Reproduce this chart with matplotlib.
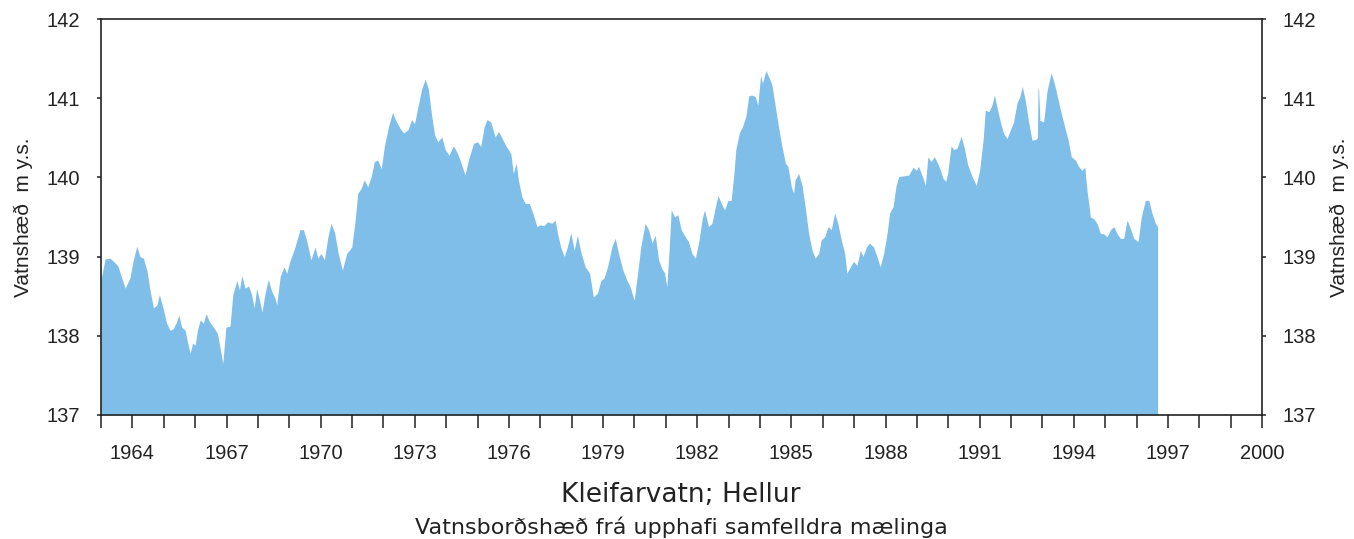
import numpy as np
import matplotlib
matplotlib.use("Agg")
from matplotlib import pyplot as plt
from matplotlib.ticker import MultipleLocator

plt.rcParams['font.family'] = ['Liberation Sans', 'DejaVu Sans']

# Vatnsborð Kleifarvatns (m y.s.), lesið af myndinni
years = [
    1963.02, 1963.13, 1963.29, 1963.45, 1963.54, 1963.66, 1963.77, 1963.92,
    1964.03, 1964.14, 1964.24, 1964.35, 1964.46, 1964.56, 1964.67, 1964.78,
    1964.86, 1964.99, 1965.09, 1965.20, 1965.30, 1965.39, 1965.48, 1965.57,
    1965.68, 1965.75, 1965.84, 1965.92, 1966.00, 1966.07, 1966.16, 1966.26,
    1966.35, 1966.45, 1966.58, 1966.71, 1966.79, 1966.88, 1966.98, 1967.11,
    1967.20, 1967.33, 1967.41, 1967.49, 1967.59, 1967.70, 1967.80, 1967.88,
    1967.96, 1968.05, 1968.13, 1968.23, 1968.33, 1968.44, 1968.55, 1968.60,
    1968.71, 1968.83, 1968.92, 1969.00,
    1969.18, 1969.34, 1969.45, 1969.56, 1969.69, 1969.82, 1969.91, 1970.01,
    1970.12, 1970.23, 1970.33, 1970.44, 1970.56, 1970.69, 1970.83, 1970.99,
    1971.10, 1971.18, 1971.29, 1971.39, 1971.50, 1971.61, 1971.71, 1971.82,
    1971.93, 1972.03, 1972.16, 1972.29, 1972.39, 1972.53, 1972.64, 1972.78,
    1972.90, 1972.99, 1973.10, 1973.22, 1973.33, 1973.43, 1973.54, 1973.63,
    1973.73, 1973.86, 1973.97, 1974.09, 1974.23, 1974.34, 1974.44, 1974.60,
    1974.71, 1974.87, 1975.00, 1975.10, 1975.21, 1975.30, 1975.42, 1975.56,
    1975.67, 1975.81, 1975.93, 1976.06, 1976.14, 1976.23, 1976.30, 1976.41,
    1976.52, 1976.65, 1976.76, 1976.89, 1976.99, 1977.12, 1977.23, 1977.37,
    1977.47, 1977.55, 1977.65, 1977.76, 1977.86, 1977.97, 1978.08, 1978.18,
    1978.29, 1978.43, 1978.57, 1978.69, 1978.82, 1978.93, 1979.03, 1979.14,
    1979.28, 1979.39, 1979.49, 1979.63, 1979.76, 1979.86, 1979.99, 1980.10,
    1980.20, 1980.34, 1980.45, 1980.56, 1980.66, 1980.77, 1980.87, 1980.96,
    1981.03, 1981.11, 1981.17, 1981.28, 1981.38, 1981.49, 1981.62, 1981.72,
    1981.83, 1981.94, 1982.06, 1982.15, 1982.23, 1982.36, 1982.47, 1982.57,
    1982.66, 1982.77, 1982.87, 1982.98, 1983.08, 1983.16, 1983.23, 1983.34,
    1983.44, 1983.55, 1983.64, 1983.74, 1983.85, 1983.93, 1984.02, 1984.08,
    1984.19, 1984.30, 1984.38, 1984.49, 1984.59, 1984.70, 1984.81, 1984.89,
    1985.00, 1985.07, 1985.12, 1985.23, 1985.34, 1985.44, 1985.55, 1985.66,
    1985.76, 1985.87, 1985.95, 1986.06, 1986.17, 1986.27, 1986.38, 1986.48,
    1986.59, 1986.70, 1986.77, 1986.88, 1986.98, 1987.09, 1987.20, 1987.28,
    1987.39, 1987.49, 1987.62, 1987.73, 1987.83, 1987.94, 1988.05, 1988.13,
    1988.24, 1988.34, 1988.42, 1988.58, 1988.74, 1988.88, 1988.98, 1989.05,
    1989.16, 1989.27, 1989.35, 1989.45, 1989.56, 1989.66, 1989.75, 1989.83,
    1989.92, 1989.98, 1990.09, 1990.17, 1990.28, 1990.41, 1990.51, 1990.62,
    1990.76, 1990.89, 1991.00, 1991.11, 1991.18, 1991.29, 1991.39, 1991.47,
    1991.55, 1991.66, 1991.76, 1991.87, 1991.98, 1992.08, 1992.19, 1992.28,
    1992.36, 1992.46, 1992.56, 1992.67, 1992.80, 1992.84, 1992.86, 1992.88,
    1992.92, 1993.04, 1993.15, 1993.28, 1993.39, 1993.50, 1993.60, 1993.71,
    1993.82, 1993.92, 1994.05, 1994.15, 1994.26, 1994.35, 1994.42, 1994.53,
    1994.63, 1994.74, 1994.85, 1994.95, 1995.06, 1995.17, 1995.27, 1995.38,
    1995.48, 1995.59, 1995.70, 1995.80, 1995.91, 1996.05, 1996.15, 1996.28,
    1996.39, 1996.49, 1996.60, 1996.67,
]

level = [
    138.75, 138.97, 138.98, 138.92, 138.88, 138.73, 138.60, 138.73,
    138.96, 139.13, 139.00, 138.98, 138.83, 138.58, 138.35, 138.39,
    138.52, 138.33, 138.16, 138.07, 138.09, 138.16, 138.26, 138.11,
    138.07, 137.93, 137.78, 137.91, 137.88, 138.07, 138.20, 138.16,
    138.28, 138.18, 138.11, 138.03, 137.86, 137.65, 138.11, 138.12,
    138.52, 138.70, 138.58, 138.76, 138.60, 138.63, 138.52, 138.35,
    138.60, 138.45, 138.30, 138.54, 138.71, 138.56, 138.47, 138.39,
    138.75, 138.87, 138.79, 138.92,
    139.12, 139.34, 139.34, 139.19, 138.96, 139.12, 138.98, 139.04,
    138.96, 139.25, 139.42, 139.31, 139.04, 138.83, 139.04, 139.12,
    139.46, 139.80, 139.86, 139.97, 139.88, 140.01, 140.20, 140.22,
    140.11, 140.39, 140.64, 140.82, 140.72, 140.62, 140.56, 140.60,
    140.73, 140.68, 140.89, 141.12, 141.24, 141.12, 140.77, 140.54,
    140.45, 140.51, 140.35, 140.28, 140.40, 140.32, 140.22, 140.03,
    140.22, 140.43, 140.45, 140.39, 140.64, 140.73, 140.70, 140.51,
    140.58, 140.47, 140.38, 140.30, 140.05, 140.18, 139.97, 139.76,
    139.67, 139.67, 139.55, 139.38, 139.40, 139.39, 139.44, 139.42,
    139.46, 139.29, 139.12, 139.00, 139.12, 139.30, 139.08, 139.27,
    139.06, 138.87, 138.79, 138.49, 138.54, 138.70, 138.73, 138.87,
    139.12, 139.23, 139.04, 138.83, 138.70, 138.62, 138.45, 138.79,
    139.12, 139.42, 139.34, 139.17, 139.27, 138.96, 138.85, 138.79,
    138.62, 139.12, 139.59, 139.50, 139.53, 139.34, 139.25, 139.19,
    139.04, 138.98, 139.21, 139.46, 139.59, 139.38, 139.42, 139.61,
    139.77, 139.67, 139.59, 139.71, 139.71, 140.01, 140.35, 140.56,
    140.64, 140.77, 141.03, 141.04, 141.02, 140.91, 141.29, 141.19,
    141.35, 141.25, 141.17, 140.89, 140.64, 140.39, 140.18, 140.14,
    139.88, 139.80, 139.97, 140.05, 139.90, 139.63, 139.29, 139.08,
    138.98, 139.04, 139.21, 139.25, 139.38, 139.34, 139.55, 139.42,
    139.21, 139.04, 138.79, 138.87, 138.94, 138.89, 139.08, 139.00,
    139.12, 139.17, 139.12, 139.00, 138.87, 139.04, 139.29, 139.55,
    139.63, 139.90, 140.01, 140.02, 140.03, 140.13, 140.09, 140.14,
    140.03, 139.90, 140.26, 140.20, 140.26, 140.18, 140.09, 139.99,
    139.95, 140.05, 140.40, 140.35, 140.37, 140.52, 140.37, 140.16,
    140.01, 139.90, 140.09, 140.47, 140.85, 140.83, 140.91, 141.04,
    140.89, 140.70, 140.56, 140.49, 140.60, 140.70, 140.94, 141.02,
    141.15, 140.96, 140.70, 140.47, 140.48, 140.50, 141.15, 141.10,
    140.72, 140.70, 141.10, 141.32, 141.17, 140.98, 140.81, 140.64,
    140.47, 140.26, 140.22, 140.14, 140.09, 140.13, 139.84, 139.50,
    139.48, 139.42, 139.29, 139.29, 139.25, 139.34, 139.38, 139.29,
    139.23, 139.23, 139.46, 139.36, 139.23, 139.19, 139.50, 139.71,
    139.71, 139.55, 139.42, 139.38,
]

year_labels = list(range(1964, 2001, 3))
level_ticks = [137, 138, 139, 140, 141, 142]

x = np.array(years)
y = np.array(level)
# byrja við vinstri ás og enda lóðrétt
x = np.concatenate([[1963.0], x, [x[-1]]])
y = np.concatenate([[y[0]], y, [137.0]])

fig = plt.figure(figsize=(13.54, 5.39), dpi=100)
ax = fig.add_axes([0.0746, 0.2301, 0.8575, 0.7346])

ax.fill_between(x, 137, y, color='#7fbee8', linewidth=0)

ax.set_xlim(1963, 2000)
ax.set_ylim(137, 142)
ax.set_xticks(year_labels)
ax.xaxis.set_minor_locator(MultipleLocator(1))
ax.set_yticks(level_ticks)

for s in ax.spines.values():
    s.set_linewidth(1.2)
    s.set_color('#222222')

ax.tick_params(axis='x', which='both', direction='out', length=9, width=1.1,
               pad=12, labelsize=14.5, colors='#222222')
ax.tick_params(axis='y', which='both', direction='out', length=3, width=1.1,
               pad=12, labelsize=14.5, colors='#222222',
               left=True, right=True, labelleft=True, labelright=True)

ax.set_ylabel('Vatnshæð  m y.s.', fontsize=15, color='#222222', labelpad=10)
ax2 = ax.secondary_yaxis('right')
ax2.set_yticks([])
ax2.spines['right'].set_visible(False)
ax2.set_ylabel('Vatnshæð  m y.s.', fontsize=15, color='#222222', labelpad=49)

fig.text(0.503, 0.082, 'Kleifarvatn; Hellur', ha='center', va='center',
         fontsize=19, color='#222222', family=['DejaVu Sans'])
fig.text(0.503, 0.022, 'Vatnsborðshæð frá upphafi samfelldra mælinga',
         ha='center', va='center', fontsize=16, color='#222222',
         family=['DejaVu Sans'])

fig.savefig('out.png', dpi=100)
